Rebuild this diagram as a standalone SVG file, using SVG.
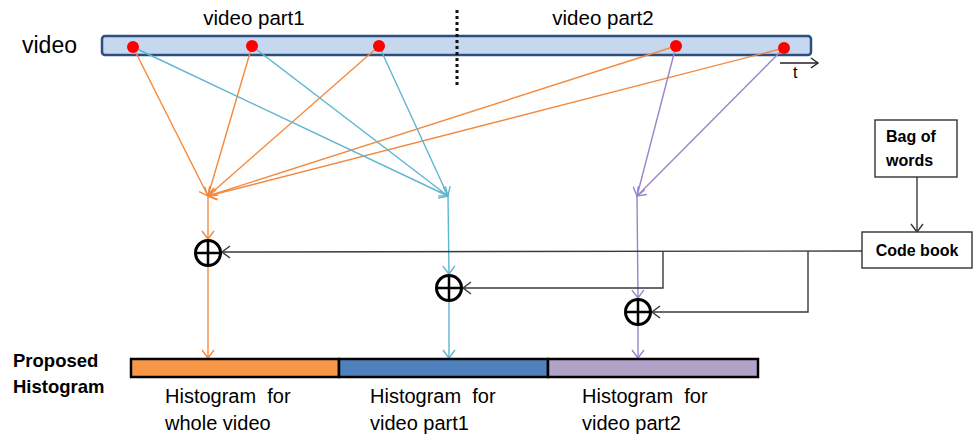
<svg xmlns="http://www.w3.org/2000/svg" width="975" height="435" viewBox="0 0 975 435">
<style>
text{font-family:"Liberation Sans",Arial,sans-serif;fill:#000}
.b{font-weight:bold}
.or{stroke:#F28A3E;stroke-width:1.4;fill:none}
.cy{stroke:#5FB6D0;stroke-width:1.4;fill:none}
.pu{stroke:#9A84CC;stroke-width:1.4;fill:none}
.gr{stroke:#3A3A3A;stroke-width:1.4;fill:none}
.dot{fill:#FF0000}
.sum circle{fill:#fff;stroke:#000;stroke-width:3}
.sum path{stroke:#000;stroke-width:2.5}
.box{fill:#fff;stroke:#333;stroke-width:1.4}
.lbl{font-size:20px}
</style>
<defs>
<marker id="aO" markerUnits="userSpaceOnUse" markerWidth="12" markerHeight="16" refX="9" refY="7" orient="auto"><path d="M1,1 L9,7 L1,13" fill="none" stroke="#F28A3E" stroke-width="1.4"/></marker>
<marker id="aC" markerUnits="userSpaceOnUse" markerWidth="12" markerHeight="16" refX="9" refY="7" orient="auto"><path d="M1,1 L9,7 L1,13" fill="none" stroke="#5FB6D0" stroke-width="1.4"/></marker>
<marker id="aP" markerUnits="userSpaceOnUse" markerWidth="12" markerHeight="16" refX="9" refY="7" orient="auto"><path d="M1,1 L9,7 L1,13" fill="none" stroke="#9A84CC" stroke-width="1.4"/></marker>
<marker id="aG" markerUnits="userSpaceOnUse" markerWidth="12" markerHeight="16" refX="9" refY="7" orient="auto"><path d="M1,1 L9,7 L1,13" fill="none" stroke="#3A3A3A" stroke-width="1.4"/></marker>
</defs>

<g id="video">
<text x="22" y="53" font-size="23">video</text>
<rect x="102" y="36" width="709" height="19" rx="3" fill="#C5D8F0" stroke="#2E4F7E" stroke-width="2.5"/>
<text x="254" y="25" font-size="20.5" text-anchor="middle">video part1</text>
<text x="603" y="25" font-size="20.5" text-anchor="middle">video part2</text>
<line x1="457" y1="10" x2="457" y2="86" stroke="#111" stroke-width="3" stroke-dasharray="3,3"/>
<line x1="780" y1="63" x2="818" y2="63" stroke="#222" stroke-width="1.4"/>
<path d="M811,58 L818,63 L811,68" fill="none" stroke="#222" stroke-width="1.4"/>
<text x="793" y="78" font-size="16">t</text>
</g>

<g id="connectors">
<line class="or" x1="133" y1="47" x2="208" y2="196" marker-end="url(#aO)"/>
<line class="or" x1="252" y1="46" x2="208" y2="196" marker-end="url(#aO)"/>
<line class="or" x1="379" y1="46" x2="208" y2="196" marker-end="url(#aO)"/>
<line class="or" x1="676" y1="46" x2="208" y2="196" marker-end="url(#aO)"/>
<line class="or" x1="784" y1="48" x2="208" y2="196" marker-end="url(#aO)"/>
<line class="cy" x1="133" y1="47" x2="448" y2="196" marker-end="url(#aC)"/>
<line class="cy" x1="252" y1="46" x2="448" y2="196" marker-end="url(#aC)"/>
<line class="cy" x1="379" y1="46" x2="448" y2="196" marker-end="url(#aC)"/>
<line class="pu" x1="676" y1="46" x2="637" y2="196" marker-end="url(#aP)"/>
<line class="pu" x1="784" y1="48" x2="637" y2="196" marker-end="url(#aP)"/>
<line class="or" x1="208" y1="196" x2="208" y2="239" marker-end="url(#aO)"/>
<line class="or" x1="208" y1="266" x2="208" y2="358" marker-end="url(#aO)"/>
<line class="cy" x1="448" y1="196" x2="449" y2="274" marker-end="url(#aC)"/>
<line class="cy" x1="449" y1="301" x2="449" y2="358" marker-end="url(#aC)"/>
<line class="pu" x1="637" y1="196" x2="638" y2="298" marker-end="url(#aP)"/>
<line class="pu" x1="638" y1="325" x2="638" y2="358" marker-end="url(#aP)"/>
<line class="gr" x1="917" y1="177" x2="917" y2="232" marker-end="url(#aG)"/>
<line class="gr" x1="862" y1="251" x2="222" y2="252" marker-end="url(#aG)"/>
<polyline class="gr" points="663,251 663,288 463,288" marker-end="url(#aG)"/>
<polyline class="gr" points="808,251 808,312 652,312" marker-end="url(#aG)"/>
</g>

<g id="dots">
<circle class="dot" cx="133" cy="47" r="6"/>
<circle class="dot" cx="252" cy="46" r="6"/>
<circle class="dot" cx="379" cy="46" r="6"/>
<circle class="dot" cx="676" cy="46" r="6"/>
<circle class="dot" cx="784" cy="48" r="6"/>
</g>

<g id="sum1" class="sum"><circle cx="208" cy="253" r="12.5"/><path d="M195.5,253 H220.5 M208,240.5 V265.5"/></g>
<g id="sum2" class="sum"><circle cx="449" cy="288" r="12.5"/><path d="M436.5,288 H461.5 M449,275.5 V300.5"/></g>
<g id="sum3" class="sum"><circle cx="638" cy="312" r="12.5"/><path d="M625.5,312 H650.5 M638,299.5 V324.5"/></g>

<g id="bagofwords">
<rect class="box" x="875" y="120" width="82" height="57"/>
<text class="b" x="886" y="142" font-size="16">Bag of</text>
<text class="b" x="886" y="166" font-size="16">words</text>
</g>

<g id="codebook">
<rect class="box" x="862" y="232" width="110" height="36"/>
<text class="b" x="917" y="256" font-size="16" text-anchor="middle">Code book</text>
</g>

<g id="histogram">
<text class="b" x="13" y="367" font-size="18.5">Proposed</text>
<text class="b" x="13" y="393" font-size="18.5">Histogram</text>
<rect x="131" y="359" width="208" height="18" fill="#F79646" stroke="#000" stroke-width="2.5"/>
<rect x="339" y="359" width="209" height="18" fill="#4F81BD" stroke="#000" stroke-width="2.5"/>
<rect x="548" y="359" width="210" height="18" fill="#B3A2C7" stroke="#000" stroke-width="2.5"/>
<text class="lbl" x="165" y="403" xml:space="preserve">Histogram  for</text>
<text class="lbl" x="165" y="430">whole video</text>
<text class="lbl" x="370" y="403" xml:space="preserve">Histogram  for</text>
<text class="lbl" x="370" y="430">video part1</text>
<text class="lbl" x="582" y="403" xml:space="preserve">Histogram  for</text>
<text class="lbl" x="582" y="430">video part2</text>
</g>
</svg>
